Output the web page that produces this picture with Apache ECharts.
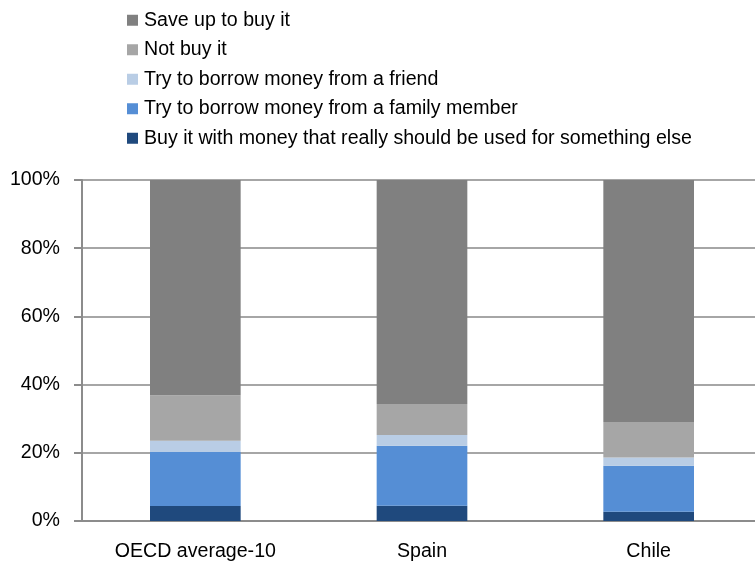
<!DOCTYPE html>
<html>
<head>
<meta charset="utf-8">
<script src="https://cdn.jsdelivr.net/npm/echarts@6/dist/echarts.min.js"></script>
<style>
  html, body { margin: 0; padding: 0; background: #fff; }
  #main { width: 755px; height: 563px; }
</style>
</head>
<body>
<div id="main"></div>
<script>
// categories and shares (%)
var countries = ['OECD average-10', 'Spain', 'Chile'];
var buyOther = [4.4, 4.5, 2.7];
var borrowFamily = [15.8, 17.6, 13.5];
var borrowFriend = [3.3, 3.1, 2.4];
var notBuy = [13.4, 9.1, 10.4];
var saveUp = [63.1, 65.7, 71.0];
var yTicks = [0, 20, 40, 60, 80, 100];

var font = '"Liberation Sans Narrow", "Arial Narrow", "Liberation Sans", sans-serif';

function bar(name, data, color) {
  return {
    name: name,
    type: 'bar',
    stack: 'total',
    barWidth: '40%',
    data: data,
    itemStyle: { color: color },
    emphasis: { disabled: true }
  };
}

var chart = echarts.init(document.getElementById('main'));
chart.setOption({
  animation: false,
  textStyle: { fontFamily: font },
  legend: {
    orient: 'vertical',
    left: 122,
    top: 5,
    itemWidth: 11,
    itemHeight: 11,
    itemGap: 9,
    icon: 'rect',
    textStyle: { fontSize: 19.6, color: '#000', fontFamily: font, lineHeight: 20.5, padding: [0, 0, 0, 1] },
    data: ['Save up to buy it', 'Not buy it', 'Try to borrow money from a friend',
      'Try to borrow money from a family member',
      'Buy it with money that really should be used for something else']
  },
  // grid runs a little past the right edge, as in the original
  grid: { left: 82, right: -7, top: 180, bottom: 42, outerBoundsMode: 'none', containLabel: false },
  xAxis: {
    type: 'category',
    data: countries,
    axisTick: { show: false },
    axisLine: { lineStyle: { color: '#8c8c8c', width: 2 } },
    axisLabel: { fontSize: 19.6, color: '#000', margin: 21, fontFamily: font }
  },
  yAxis: {
    type: 'value',
    min: yTicks[0],
    max: yTicks[yTicks.length - 1],
    interval: 20,
    axisLine: { show: true, lineStyle: { color: '#8c8c8c', width: 2 } },
    axisTick: { show: true, length: 8, lineStyle: { color: '#8c8c8c', width: 2 } },
    splitLine: { lineStyle: { color: '#a6a6a6', width: 2 } },
    axisLabel: {
      formatter: '{value}%', fontSize: 19.6, color: '#000', margin: 22,
      fontFamily: font, padding: [4, 0, 0, 0]
    }
  },
  series: [
    bar('Buy it with money that really should be used for something else', buyOther, '#1f497d'),
    bar('Try to borrow money from a family member', borrowFamily, '#558ed5'),
    bar('Try to borrow money from a friend', borrowFriend, '#b9cde5'),
    bar('Not buy it', notBuy, '#a6a6a6'),
    bar('Save up to buy it', saveUp, '#808080')
  ]
});
</script>
</body>
</html>
